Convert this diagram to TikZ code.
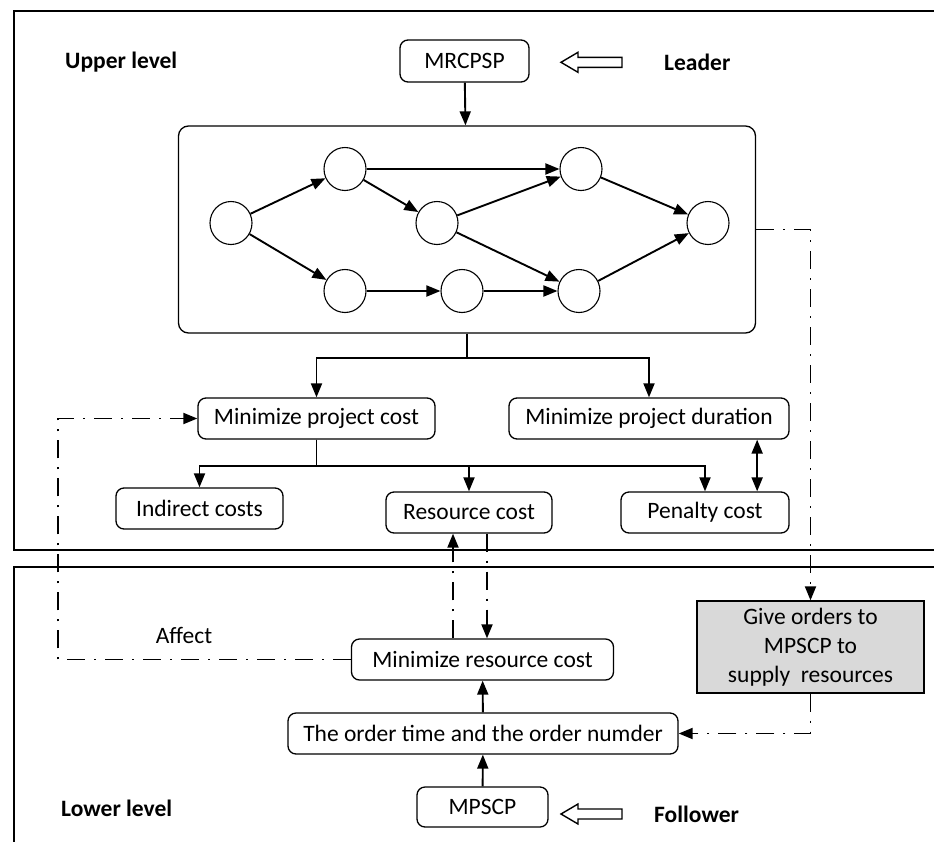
\documentclass[tikz,border=0pt]{standalone}
\usepackage{fontspec}
\setmainfont{Carlito}
\usetikzlibrary{arrows.meta,shapes.geometric}
\begin{document}
\begin{tikzpicture}[x=1pt,y=-1pt,
  box/.style={draw,rounded corners=8pt,line width=1.3pt,inner sep=0pt,
    minimum height=41pt,font=\fontsize{23.5}{27}\selectfont,align=center},
  circ/.style={draw,ellipse,line width=1.1pt,minimum width=42pt,minimum height=43pt,inner sep=0pt},
  arr/.style={line width=1.9pt,-{Triangle[length=14pt,width=11pt]}},
  darr/.style={line width=1.9pt,{Triangle[length=14pt,width=11pt]}-{Triangle[length=14pt,width=11pt]}},
  dd/.style={dash pattern=on 18pt off 9pt on 2pt off 9pt},
  lbl/.style={font=\fontsize{23.5}{27}\selectfont\bfseries,inner sep=0pt,anchor=west},
  frame/.style={line width=1.8pt},
  hollow/.style={draw,line width=1.4pt,fill=white}
]
\useasboundingbox (0,0) rectangle (934,841);
\clip (0,0) rectangle (934,841);

% frames
\draw[frame] (960,11) -- (14,11) -- (14,550) -- (960,550);
\draw[frame] (960,567) -- (14,567) -- (14,900);

% upper nodes
\node[box,minimum width=129pt,minimum height=42pt] (mrcpsp) at (464.5,61) {MRCPSP};
\node[draw,rounded corners=10pt,line width=1.3pt,minimum width=577pt,minimum height=207pt] (net) at (467,229.5) {};
\node[box,minimum width=237pt] (mpc) at (316.5,418.5) {Minimize project cost};
\node[box,minimum width=280pt] (mpd) at (649,418.5) {Minimize project duration};
\node[box,minimum width=167pt] (ind) at (199.5,508.5) {Indirect costs};
\node[box,minimum width=166pt] (res) at (469,512.5) {Resource cost};
\node[box,minimum width=168pt] (pen) at (705,512.5) {Penalty cost};

% network circles
\node[circ] (c1) at (231,223) {};
\node[circ] (c2) at (345,169) {};
\node[circ] (c3) at (437,223) {};
\node[circ] (c4) at (581,169) {};
\node[circ] (c5) at (708,223) {};
\node[circ] (c6) at (345,291) {};
\node[circ] (c7) at (462,291) {};
\node[circ] (c8) at (579,291) {};
\draw[arr] (c1) -- (c2);
\draw[arr] (c1) -- (c6);
\draw[arr] (c2) -- (c4);
\draw[arr] (c2) -- (c3);
\draw[arr] (c3) -- (c4);
\draw[arr] (c3) -- (c8);
\draw[arr] (c6) -- (c7);
\draw[arr] (c7) -- (c8);
\draw[arr] (c4) -- (c5);
\draw[arr] (c8) -- (c5);

% labels
\node[lbl] (ul) at (65,62) {Upper level};
\node[lbl] (ld) at (664,62) {Leader};
\node[lbl] (ll) at (61,808) {Lower level};
\node[lbl] (fl) at (654,814) {Follower};
\node[font=\fontsize{23.5}{27}\selectfont,inner sep=0pt] (aff) at (184,635) {Affect};

% hollow arrows
\draw[hollow] (622,57.3) -- (578,57.3) -- (578,52.3) -- (561,62.3) -- (578,72.3) -- (578,67.3) -- (622,67.3) -- cycle;
\draw[hollow] (622,809) -- (578,809) -- (578,804) -- (561,814) -- (578,824) -- (578,819) -- (622,819) -- cycle;

% lower nodes
\node[draw,line width=1.3pt,fill=black!15,minimum width=227pt,minimum height=92pt,inner sep=0pt,
  font=\fontsize{23.5}{29}\selectfont,align=center] (give) at (810.5,647) {Give orders to\\MPSCP to\\supply\ \ resources};
\node[box,minimum width=262pt] (mrc) at (482.5,659.5) {Minimize resource cost};
\node[box,minimum width=390pt] (ord) at (483,733.5) {The order time and the order numder};
\node[box,minimum width=131pt,minimum height=40pt] (mps) at (482.5,807) {MPSCP};

% solid connectors
\draw[arr] (mrcpsp) -- (net);
\draw[arr] (net.south) -- ++(0,24) -| (mpc.north);
\draw[arr] (net.south) -- ++(0,24) -| (mpd.north);
\draw[arr] (mpc.south) -- ++(0,26) -| (ind.north);
\draw[arr] (mpc.south) -- ++(0,26) -| (res.north);
\draw[arr] (mpc.south) -- ++(0,26) -| (pen.north);
\draw[darr] ([xshift=-32.5pt]mpd.south east) -- ([xshift=-32.5pt]pen.north east);
\draw[arr] (ord) -- (mrc);
\draw[arr] (mps) -- (ord);

% dash-dot connectors
\draw[arr,dd] (net.east) -| (give.north);
\draw[arr,dd] (give.south) |- (ord.east);
\coordinate (lc) at (58,418.5);
\draw[arr,dd] (mrc.west) -| (lc) -- (mpc.west);
\coordinate (upb) at ([xshift=-16pt]res.south);
\coordinate (dnb) at ([xshift=18pt]res.south);
\draw[arr,dd] (upb |- mrc.north) -- (upb);
\draw[arr,dd] (dnb) -- (dnb |- mrc.north);
\end{tikzpicture}
\end{document}
